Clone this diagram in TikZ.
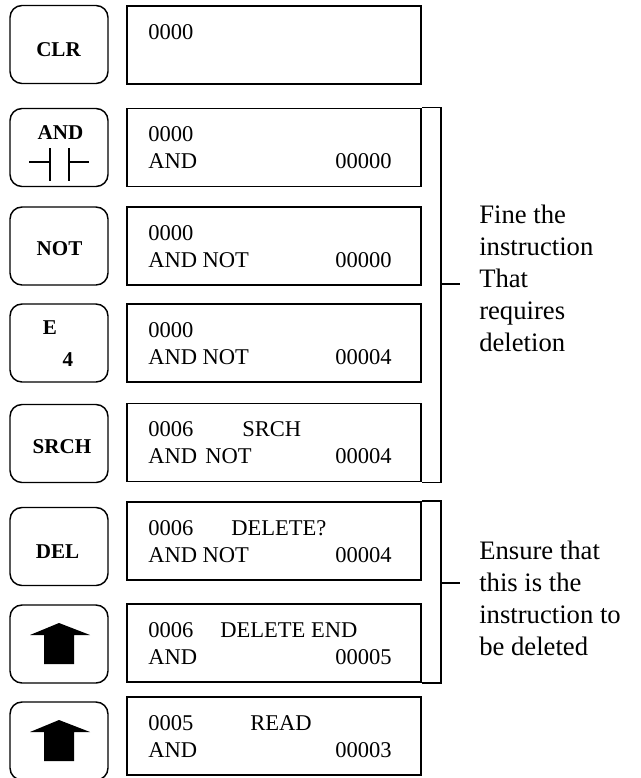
\documentclass[tikz,border=0pt]{standalone}
\usepackage{fontspec}
\setmainfont{Liberation Serif}
\tikzset{
  keybox/.style={draw,line width=1.1pt,rounded corners=9pt,minimum width=73.5pt,minimum height=58.5pt,inner sep=0pt},
  keytext/.style={font=\fontsize{15.8}{18}\selectfont\bfseries,inner sep=0pt},
  lcd/.style={draw,line width=1.4pt,minimum width=220.5pt,minimum height=58.5pt,inner sep=0pt},
  lcdtext/.style={font=\fontsize{16.9}{20}\selectfont,inner sep=0pt},
  note/.style={font=\fontsize{20}{24}\selectfont,align=left,inner sep=0pt,anchor=north west},
  brace/.style={line width=1.1pt}
}

\begin{document}
\begin{tikzpicture}[x=0.75pt,y=-0.75pt]
    \useasboundingbox (0,0) rectangle (641,778);
    % keys
    \node[keybox] (kclr) at (59,44.5) {};
    \node[keybox] (kand) at (59,147.5) {};
    \node[keybox] (knot) at (59,246) {};
    \node[keybox] (kfour) at (59,343) {};
    \node[keybox] (ksrch) at (59,443.5) {};
    \node[keybox] (kdel) at (59,546.5) {};
    \node[keybox] (kupa) at (59,644) {};
    \node[keybox] (kupb) at (59,741) {};
    \node[keytext] (tclr) at (58.5,49.5) {CLR};
    \node[keytext] (tand) at (60.5,133) {AND};
    \draw[line width=1.1pt] (29,162) -- (50,162) (50,148) -- (50,181)
                            (69,148) -- (69,181) (69,162) -- (89,162);
    \node[keytext] (tnot) at (59.5,248.5) {NOT};
    \node[keytext] (te) at (50,328) {E};
    \node[keytext] (tfour) at (68,360) {4};
    \node[keytext] (tsrch) at (62,446.5) {SRCH};
    \node[keytext] (tdel) at (57.5,551.5) {DEL};
    \fill[shift={(kupa.center)}] (0,-21) -- (31,-9) -- (15,-9) -- (15,20) -- (-15,20) -- (-15,-9) -- (-29,-9) -- cycle;
    \fill[shift={(kupb.center)}] (0,-21) -- (31,-9) -- (15,-9) -- (15,20) -- (-15,20) -- (-15,-9) -- (-29,-9) -- cycle;
    % displays
    \node[lcd] (dclr) at (274,45) {};
    \node[lcd] (dand) at (274,147.5) {};
    \node[lcd] (dnot) at (274,246) {};
    \node[lcd] (dfour) at (274,343) {};
    \node[lcd] (dsrch) at (274,442.5) {};
    \node[lcd] (ddel) at (274,541) {};
    \node[lcd] (dupa) at (274,643) {};
    \node[lcd] (dupb) at (274,736) {};
    \node[lcdtext,anchor=west] at (148,32) {0000};
    \node[lcdtext,anchor=west] at (148,134) {0000};
    \node[lcdtext,anchor=west] at (148,161) {AND};
    \node[lcdtext,anchor=east] at (392,161) {00000};
    \node[lcdtext,anchor=west] at (148,233) {0000};
    \node[lcdtext,anchor=west] at (148,260) {AND NOT};
    \node[lcdtext,anchor=east] at (392,260) {00000};
    \node[lcdtext,anchor=west] at (148,330) {0000};
    \node[lcdtext,anchor=west] at (148,357) {AND NOT};
    \node[lcdtext,anchor=east] at (392,357) {00004};
    \node[lcdtext,anchor=west] at (148,429) {0006};
    \node[lcdtext,anchor=west] at (242,429) {SRCH};
    \node[lcdtext,anchor=west] at (148,456) {AND\hspace{2pt} NOT};
    \node[lcdtext,anchor=east] at (392,456) {00004};
    \node[lcdtext,anchor=west] at (148,528) {0006};
    \node[lcdtext,anchor=west] at (231,528) {DELETE?};
    \node[lcdtext,anchor=west] at (148,555) {AND NOT};
    \node[lcdtext,anchor=east] at (392,555) {00004};
    \node[lcdtext,anchor=west] at (148,630) {0006};
    \node[lcdtext,anchor=west] at (220,630) {DELETE END};
    \node[lcdtext,anchor=west] at (148,657) {AND};
    \node[lcdtext,anchor=east] at (392,657) {00005};
    \node[lcdtext,anchor=west] at (148,723) {0005};
    \node[lcdtext,anchor=west] at (250,723) {READ};
    \node[lcdtext,anchor=west] at (148,750) {AND};
    \node[lcdtext,anchor=east] at (392,750) {00003};
    % brackets and notes
    \draw[brace] (dand.north east) -- ++(19,0) |- (dsrch.south east);
    \coordinate (ta) at (440,284);
    \draw[brace] (ta) -- ++(20,0);
    \draw[brace] (ddel.north east) -- ++(19,0) |- (dupa.south east);
    \coordinate (tb) at (440,583);
    \draw[brace] (tb) -- ++(20,0);
    \node[note] (fine) at (479,205) {Fine the\\instruction\\That\\requires\\deletion};
    \node[note] (ensure) at (479,541) {Ensure that\\this is the\\instruction to\\be deleted};
  \end{tikzpicture}
\end{document}
